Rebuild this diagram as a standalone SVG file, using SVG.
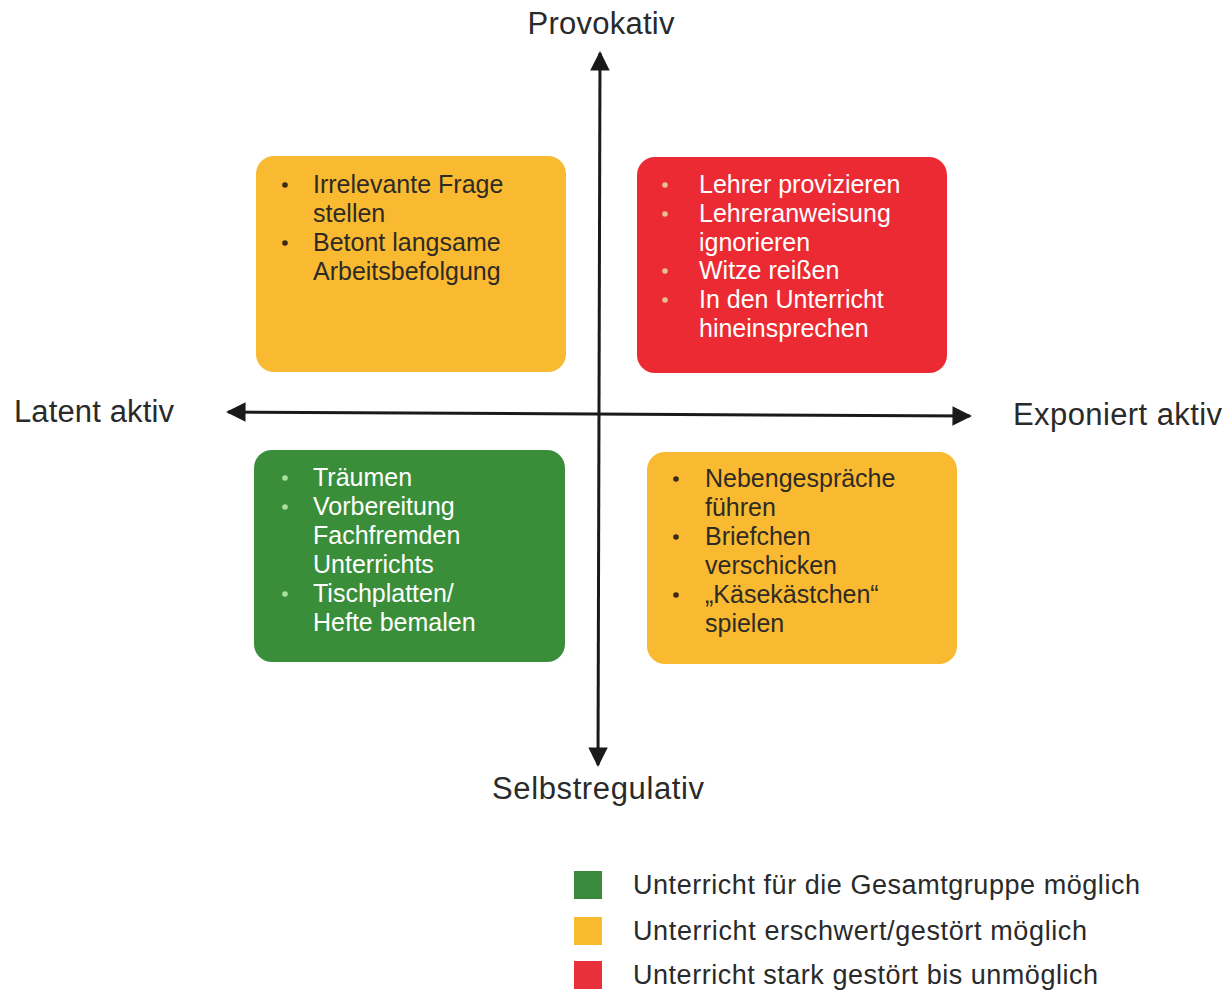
<svg xmlns="http://www.w3.org/2000/svg" width="1228" height="992" viewBox="0 0 1228 992">
<style>
.t{font-family:"Liberation Sans",Arial,sans-serif;font-size:25px}
.dk{fill:#2e2a24}
.wh{fill:#ffffff}
.ax{font-family:"Liberation Sans",Arial,sans-serif;font-size:31px;fill:#2a2a2a}
.lg{font-family:"Liberation Sans",Arial,sans-serif;font-size:27px;fill:#2a2a2a}
.axis{stroke:#1a1a1a;stroke-width:3;fill:none}
</style>
<defs>
<marker id="ah" viewBox="0 0 10 10" refX="9" refY="5" markerWidth="8" markerHeight="6.5" orient="auto-start-reverse" markerUnits="strokeWidth">
<path d="M0,0 L10,5 L0,10 z" fill="#1a1a1a"/>
</marker>
</defs>
<rect width="1228" height="992" fill="#ffffff"/>

<g id="box-top-left">
<rect x="256" y="156" width="310" height="216" rx="18" fill="#F9BA32"/>
<circle cx="285" cy="185" r="2.8" fill="#3a2a14"/>
<circle cx="285" cy="243" r="2.8" fill="#3a2a14"/>
<text class="t dk" x="313" y="193">Irrelevante Frage</text>
<text class="t dk" x="313" y="222">stellen</text>
<text class="t dk" x="313" y="251">Betont langsame</text>
<text class="t dk" x="313" y="280">Arbeitsbefolgung</text>
</g>

<g id="box-top-right">
<rect x="637" y="157" width="310" height="216" rx="18" fill="#EC2A33"/>
<circle cx="665" cy="185" r="2.8" fill="#e8c090"/>
<circle cx="665" cy="214" r="2.8" fill="#e8c090"/>
<circle cx="665" cy="271" r="2.8" fill="#e8c090"/>
<circle cx="665" cy="300" r="2.8" fill="#e8c090"/>
<text class="t wh" x="699" y="193">Lehrer provizieren</text>
<text class="t wh" x="699" y="222">Lehreranweisung</text>
<text class="t wh" x="699" y="251">ignorieren</text>
<text class="t wh" x="699" y="279">Witze reißen</text>
<text class="t wh" x="699" y="308">In den Unterricht</text>
<text class="t wh" x="699" y="337">hineinsprechen</text>
</g>

<g id="box-bottom-left">
<rect x="254" y="450" width="311" height="212" rx="18" fill="#3A8E3A"/>
<circle cx="285" cy="478" r="2.8" fill="#a8e0a0"/>
<circle cx="285" cy="507" r="2.8" fill="#a8e0a0"/>
<circle cx="285" cy="594" r="2.8" fill="#a8e0a0"/>
<text class="t wh" x="313" y="486">Träumen</text>
<text class="t wh" x="313" y="515">Vorbereitung</text>
<text class="t wh" x="313" y="544">Fachfremden</text>
<text class="t wh" x="313" y="573">Unterrichts</text>
<text class="t wh" x="313" y="602">Tischplatten/</text>
<text class="t wh" x="313" y="631">Hefte bemalen</text>
</g>

<g id="box-bottom-right">
<rect x="647" y="452" width="310" height="212" rx="18" fill="#F9BA32"/>
<circle cx="676" cy="479" r="2.8" fill="#3a2a14"/>
<circle cx="676" cy="537" r="2.8" fill="#3a2a14"/>
<circle cx="676" cy="595" r="2.8" fill="#3a2a14"/>
<text class="t dk" x="705" y="487">Nebengespräche</text>
<text class="t dk" x="705" y="516">führen</text>
<text class="t dk" x="705" y="545">Briefchen</text>
<text class="t dk" x="705" y="574">verschicken</text>
<text class="t dk" x="705" y="603">„Käsekästchen“</text>
<text class="t dk" x="705" y="632">spielen</text>
</g>

<g id="connectors">
<line class="axis" x1="598" y1="765" x2="600" y2="53" marker-start="url(#ah)" marker-end="url(#ah)"/>
<line class="axis" x1="970" y1="416" x2="228" y2="412" marker-start="url(#ah)" marker-end="url(#ah)"/>
</g>

<g id="axis-labels">
<text class="ax" x="601" y="34" text-anchor="middle" textLength="147">Provokativ</text>
<text class="ax" x="14" y="422" textLength="160">Latent aktiv</text>
<text class="ax" x="1013" y="425" textLength="209">Exponiert aktiv</text>
<text class="ax" x="492" y="799" textLength="212">Selbstregulativ</text>
</g>

<g id="legend">
<rect x="574" y="871" width="28" height="28" fill="#3A8A3E"/>
<rect x="574" y="917" width="28" height="28" fill="#FBBB2E"/>
<rect x="574" y="961" width="28" height="28" fill="#E8303A"/>
<text class="lg" x="633" y="894" textLength="507">Unterricht für die Gesamtgruppe möglich</text>
<text class="lg" x="633" y="940" textLength="454">Unterricht erschwert/gestört möglich</text>
<text class="lg" x="633" y="984" textLength="465">Unterricht stark gestört bis unmöglich</text>
</g>
</svg>
